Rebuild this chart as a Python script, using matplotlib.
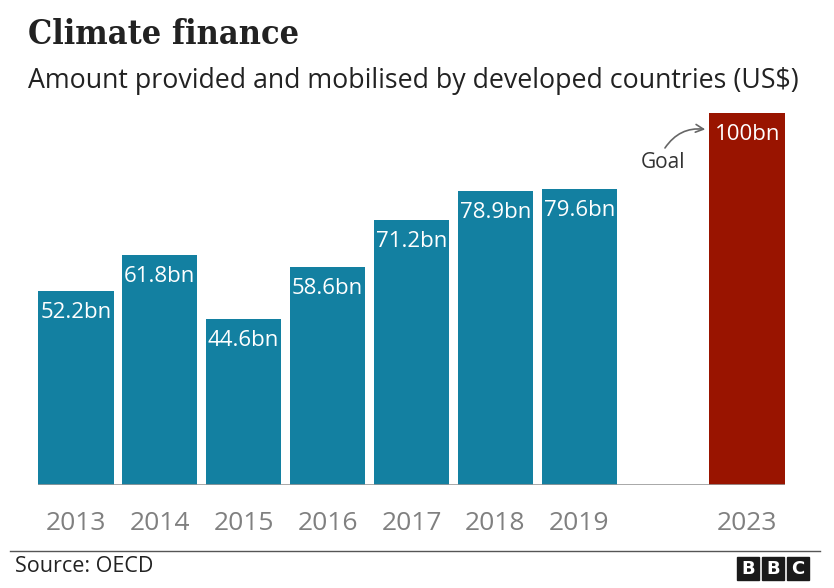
import matplotlib
matplotlib.use('Agg')
import matplotlib.pyplot as plt
from matplotlib.patches import Rectangle

years = ['2013', '2014', '2015', '2016', '2017', '2018', '2019', '2023']
positions = [0, 1, 2, 3, 4, 5, 6, 8]
values = [52.2, 61.8, 44.6, 58.6, 71.2, 78.9, 79.6, 100]
labels = ['52.2bn', '61.8bn', '44.6bn', '58.6bn', '71.2bn', '78.9bn', '79.6bn', '100bn']
colors = ['#1380a1'] * 7 + ['#991400']

W, H = 834, 588
fig = plt.figure(figsize=(W / 100, H / 100), dpi=100)
fig.patch.set_facecolor('white')

ax = fig.add_axes([38 / W, (H - 485) / H, 747 / W, 372 / H])
ax.bar(positions, values, width=0.9, color=colors, zorder=2)
ax.set_xlim(-0.45, 8.45)
ax.set_ylim(0, 100)
ax.axhline(0, color='#999999', linewidth=1.2, zorder=3)

for x, v, lab in zip(positions, values, labels):
    ax.text(x, v - 5.7, lab, ha='center', va='center', color='white',
            fontsize=16, family='Open Sans')

# goal note with curved arrow
ax.text(7.0, 86.8, 'Goal', ha='center', va='center', fontsize=15,
        color='#333333', family='Open Sans')
ax.annotate('', xy=(7.5, 95.6), xytext=(7.02, 90.6),
            arrowprops=dict(arrowstyle='->', color='#666666', lw=1.2,
                            connectionstyle='arc3,rad=-0.3',
                            shrinkA=0, shrinkB=0, mutation_scale=14))

ax.set_xticks(positions)
ax.set_xticklabels(years, fontsize=19, color='#808080', family='Open Sans')
ax.tick_params(axis='x', length=0, pad=19)
ax.set_yticks([])
for s in ax.spines.values():
    s.set_visible(False)

fig.text(28 / W, 1 - 35 / H, 'Climate finance', fontsize=24.5, fontweight='bold',
         family='DejaVu Serif', stretch='condensed', color='#222222',
         va='center', ha='left')
fig.text(28 / W, 1 - 81 / H, 'Amount provided and mobilised by developed countries (US$)',
         fontsize=19.3, family='Open Sans', color='#222222', va='center', ha='left')

fig.add_artist(plt.Line2D([10 / W, 820 / W], [1 - 551 / H, 1 - 551 / H],
                          color='#555555', linewidth=1, transform=fig.transFigure))
fig.text(15 / W, 1 - 567 / H, 'Source: OECD', fontsize=15.5, family='Open Sans',
         color='#222222', va='center', ha='left')

for i, ch in enumerate('BBC'):
    x0 = 737 + i * 25
    fig.add_artist(Rectangle((x0 / W, 1 - 580 / H), 22 / W, 23 / H,
                             transform=fig.transFigure, color='#1a1a1a'))
    fig.text((x0 + 11) / W, 1 - 568.5 / H, ch, fontsize=13, fontweight='bold',
             color='white', ha='center', va='center', family='DejaVu Sans')

fig.savefig('out.png', dpi=100)
